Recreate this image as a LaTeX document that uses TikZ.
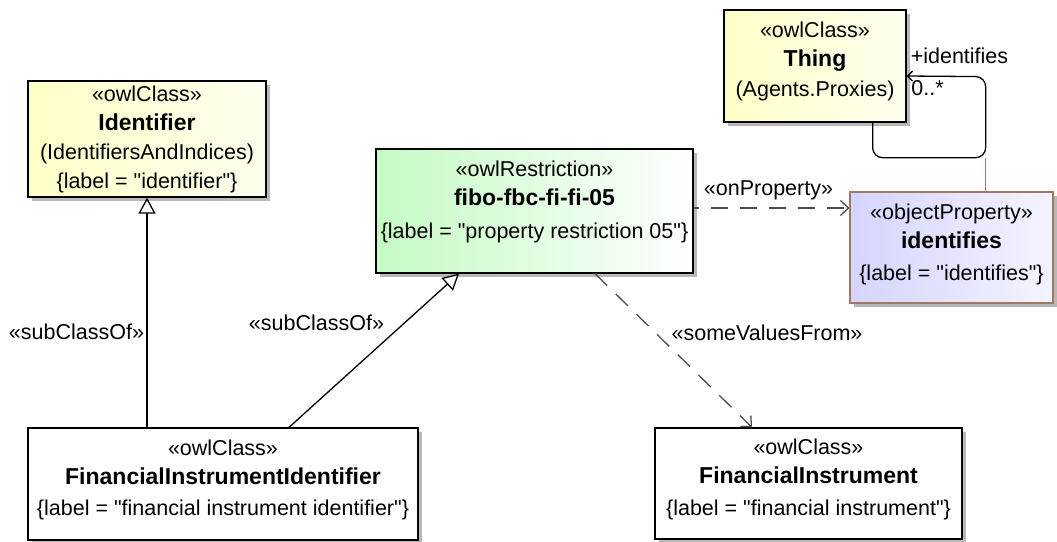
\documentclass[tikz,border=0pt]{standalone}
\usepackage{fontspec}
\setmainfont{Liberation Sans}
\usetikzlibrary{arrows.meta,shadows}

\newcommand\nm[1]{{\fontsize{23}{29}\selectfont\bfseries #1}}
\newcommand\lift[1]{\rule[-#1pt]{0pt}{0pt}}
\newcommand\q{\textquotedbl}

\begin{document}
\begin{tikzpicture}[x=1pt, y=-1pt,
  every node/.style={font=\fontsize{21.5}{29}\selectfont, text=black},
  umlbox/.style={draw=black, line width=1.3pt, rectangle, align=center, inner sep=0pt,
    drop shadow={shadow xshift=4pt, shadow yshift=-4pt, fill=black!28, opacity=1}},
  classbox/.style={umlbox, left color=yellow!22, right color=yellow!6},
  lbl/.style={inner sep=0pt},
  gen/.style={line width=1.3pt, -{Triangle[open, length=16pt, width=17pt, fill=white]}},
  dep/.style={line width=1.3pt, draw=black!70, dash pattern=on 17pt off 12pt,
    -{Straight Barb[length=8pt, width=15pt, line width=1.3pt]}}]
  \useasboundingbox (0,0) rectangle (1057,541);

  % classes
  \node[classbox, minimum width=238pt, minimum height=116pt] (idf) at (147,139)
    {«owlClass»\\ \nm{Identifier}\\ (IdentifiersAndIndices)\\ \{label = \q identifier\q\}};
  \node[classbox, minimum width=182pt, minimum height=112pt] (thing) at (815,66)
    {«owlClass»\\ \nm{Thing}\\[1pt] (Agents.Proxies)\lift{14}};
  \node[umlbox, fill=white, minimum width=390pt, minimum height=112pt] (fii) at (223,484)
    {«owlClass»\\ \nm{FinancialInstrumentIdentifier}\\[2pt] \{label = \q financial instrument identifier\q\}\lift{13}};
  \node[umlbox, fill=white, minimum width=307pt, minimum height=111pt] (fi) at (808.5,483.5)
    {«owlClass»\\ \nm{FinancialInstrument}\\[3pt] \{label = \q financial instrument\q\}\lift{12}};

  % restriction and property
  \node[umlbox, left color={rgb,255:red,196;green,250;blue,196}, right color=white,
    minimum width=317pt, minimum height=124pt] (rst) at (534.5,211)
    {«owlRestriction»\\ \nm{fibo-fbc-fi-fi-05}\\[4pt] \{label = \q property restriction 05\q\}\lift{23}};
  \node[umlbox, draw={rgb,255:red,160;green,120;blue,100},
    left color={rgb,255:red,212;green,212;blue,255}, right color={rgb,255:red,244;green,244;blue,255},
    minimum width=203pt, minimum height=111pt] (prop) at (951.5,247.5)
    {«objectProperty»\\ \nm{identifies}\\[3pt] \{label = \q identifies\q\}\lift{10}};

  % connectors
  \draw[gen] (idf.south |- fii.north) -- (idf.south);
  \draw[gen] ([xshift=66pt]fii.north) -- ([xshift=-75.5pt]rst.south);
  \draw[dep] ([xshift=60.5pt]rst.south) -- ([xshift=-56.5pt]fi.north);
  \draw[dep, dash phase=-17pt] ([yshift=3pt]rst.east) -- ([yshift=3pt]rst.east -| prop.west);
  \draw[line width=1.3pt, rounded corners=10pt, -{Straight Barb[length=5pt, width=10pt]}]
    ([xshift=-34pt]thing.south east) -- ++(0,35) -- ++(113,0) coordinate (tie)
    -- ++(0,-81) -- ([yshift=-10pt]thing.east);
  \draw[line width=1.1pt, draw={rgb,255:red,160;green,120;blue,100}] (tie) -- (tie |- prop.north);

  % labels
  \node[lbl] (lsub1) at (76.5,332) {«subClassOf»};
  \node[lbl] (lsub2) at (316.5,323) {«subClassOf»};
  \node[lbl] (lsvf) at (767,333) {«someValuesFrom»};
  \node[lbl] (lonp) at (768.5,190) {«onProperty»};
  \node[lbl] (lrole) at (959.5,56) {+identifies};
  \node[lbl] (lmult) at (927.5,88) {0..*};
\end{tikzpicture}
\end{document}
